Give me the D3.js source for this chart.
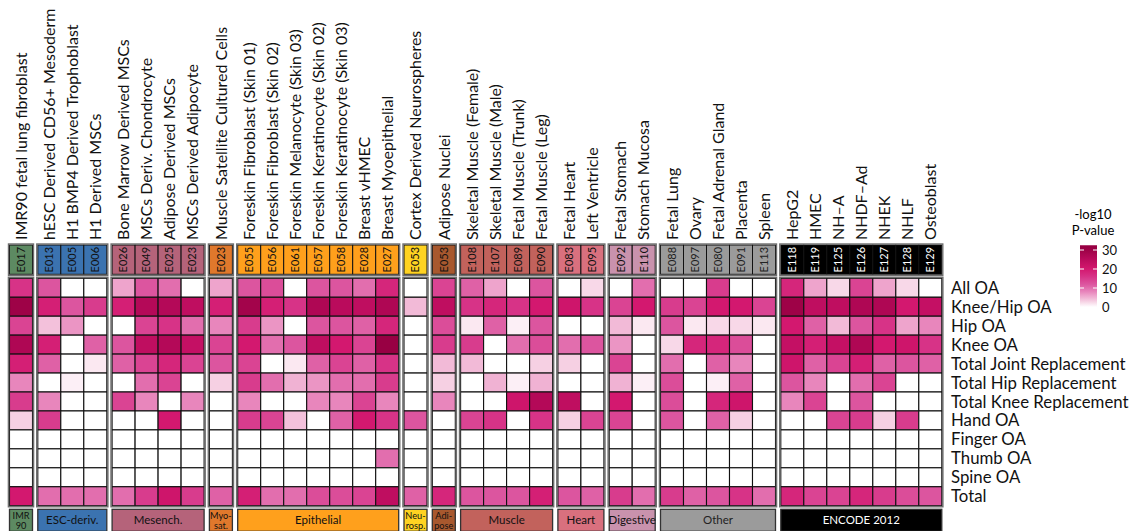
<!DOCTYPE html>
<html><head><meta charset="utf-8">
<script src="https://cdn.jsdelivr.net/npm/d3@7"></script>
<style>
html,body{margin:0;padding:0;background:#fff;}
svg{display:block;font-family:"Lato","Liberation Sans",sans-serif;}
</style></head>
<body><svg id="c" width="1132" height="531"></svg>
<script>
// ---------- DATA ----------
const tissues = ["IMR90 fetal lung fibroblast","hESC Derived CD56+ Mesoderm","H1 BMP4 Derived Trophoblast","H1 Derived MSCs",
 "Bone Marrow  Derived MSCs","MSCs Deriv. Chondrocyte","Adipose Derived MSCs","MSCs Derived Adipocyte",
 "Muscle Satellite Cultured Cells",
 "Foreskin Fibroblast (Skin 01)","Foreskin Fibroblast (Skin 02)","Foreskin Melanocyte (Skin 03)","Foreskin Keratinocyte (Skin 02)","Foreskin Keratinocyte (Skin 03)","Breast vHMEC","Breast Myoepithelial",
 "Cortex Derived Neurospheres","Adipose Nuclei",
 "Skeletal Muscle (Female)","Skeletal Muscle (Male)","Fetal Muscle (Trunk)","Fetal Muscle (Leg)",
 "Fetal Heart","Left Ventricle","Fetal Stomach","Stomach Mucosa",
 "Fetal Lung","Ovary","Fetal Adrenal Gland","Placenta","Spleen",
 "HepG2","HMEC","NH\u2013A","NHDF\u2013Ad","NHEK","NHLF","Osteoblast"];
const codes = ["E017","E013","E005","E006","E026","E049","E025","E023","E023",
 "E055","E056","E061","E057","E058","E028","E027","E053","E053",
 "E108","E107","E089","E090","E083","E095","E092","E110",
 "E088","E097","E080","E091","E113","E118","E119","E125","E126","E127","E128","E129"];
const groupNames = ["IMR\n90","ESC-deriv.","Mesench.","Myo-\nsat.","Epithelial","Neu-\nrosp.","Adi-\npose","Muscle","Heart","Digestive","Other","ENCODE 2012"];
const groupSizes = [1,3,4,1,7,1,1,4,2,2,5,7];
const traits = ["All OA","Knee/Hip OA","Hip OA","Knee OA","Total Joint Replacement","Total Hip Replacement","Total Knee Replacement","Hand OA","Finger OA","Thumb OA","Spine OA","Total"];
// -log10 P-values, one array per trait (columns in tissue order)
const allOA   = [16, 12,0,0, 6,12,10,0, 6, 12,13,0,12,12,10,18, 0,14, 11,6,0,12, 0,2.5, 0,10, 0,0,15,0,0, 18,6,2.5,14,6,2.5,0];
const kneeHip = [30, 19,12,15, 19,26,26,24, 19, 29,19,16,27,25,24,27, 4.5,24, 16,18,16,20, 21,16, 14,20, 15,14,20,20,14, 30,24,24,27,27,20,23];
const hipOA   = [14, 4,7,0, 0,14,16,10, 8, 15,7,0,12,12,11,18, 0,13, 1.5,11,1,12, 0,0, 4.5,1.5, 12,1.5,2.5,2.5,1.5, 20,11,4.5,12,16,6,8];
const kneeOA  = [27, 19,0,11, 12,24,26,23, 14, 20,10,12,24,20,14,31, 0,15, 15,0,10,13, 10,12, 7,0, 2.5,18,18,13,0, 23,19,23,27,20,21,16];
const tjr     = [19, 11,0,1.5, 11,14,18,14, 12, 14,0,1.5,11,14,11,16, 0,4.5, 4.5,0,0,3, 3,0, 14,0, 10,0,11,8,0, 21,11,14,19,11,12,11];
const thr     = [8, 0,1,0, 0,10,14,0, 3, 15,10,5,7,10,10,15, 0,3, 0,5,1,5, 0,0, 5,1, 13,0,1,11,0, 12,8,0,10,14,0,0];
const tkr     = [15, 8,0,0, 14,8,0,8, 0, 8,0,0,8,8,14,8, 0,8, 0,0,21,26, 24,0, 20,0, 13,0,18,21,0, 8,14,0,12,0,0,0];
const handOA  = [3, 15,0,0, 0,0,20,0, 0, 15,14,4,0,11,20,16, 12,0, 14,16,0,16, 3,14, 14,0, 12,0,11,3,0, 0,0,14,15,3,15,0];
const fingerOA= [0, 0,0,0, 0,0,0,0, 0, 0,0,0,0,0,0,0, 0,0, 0,0,0,0, 0,0, 0,0, 0,0,0,0,0, 0,0,0,0,0,0,0];
const thumbOA = [0, 0,0,0, 0,0,0,0, 0, 0,0,0,0,0,0,10, 0,0, 0,0,0,0, 0,0, 0,0, 0,0,0,0,0, 0,0,0,0,0,0,0];
const spineOA = [0, 0,0,0, 0,0,0,0, 0, 0,0,0,0,0,0,0, 0,0, 0,0,0,0, 0,0, 0,0, 0,0,0,0,0, 0,0,0,0,0,0,0];
const total   = [20, 10,10,10, 10,15,21,15, 11, 19,10,10,13,13,14,24, 11,18, 12,12,12,19, 12,11, 15,10, 15,11,12,16,10, 18,14,14,18,15,13,12];
const valueRows = [allOA,kneeHip,hipOA,kneeOA,tjr,thr,tkr,handOA,fingerOA,thumbOA,spineOA,total];
const legendTicks = [0,10,20,30];

// ---------- STYLE ----------
const groupColors = ["#5d8a62","#3b73b0","#b5637a","#e0782c","#ffa01c","#ffd322","#a8582e","#c2625c","#d9707e","#c992ad","#9b9b9b","#000000"];
const groupText   = ["#111","#111","#111","#111","#111","#111","#111","#111","#111","#111","#222","#fff"];

const svg = d3.select("#c");
const colW = 23, gap = 5.3, x0 = 9.5;
const groupIdx = [];
groupSizes.forEach((n,g)=>{for(let i=0;i<n;i++) groupIdx.push(g);});
const xIdx = d3.scaleLinear().domain([0,38]).range([x0, x0+38*colW]);
const xCol = i => xIdx(i) + groupIdx[i]*gap;
const y = d3.scaleBand().domain(traits).range([278.3, 505.7]).paddingInner(0);

const color = d3.scaleLinear()
  .domain([0, 3, 8, 12, 16, 20, 25, 31])
  .range(["#ffffff","#f6d0e3","#e886bc","#dc559f","#d73387","#d3186f","#ba0b5c","#980043"])
  .clamp(true);

// group extents
const gStart = []; let acc=0;
groupSizes.forEach(n=>{gStart.push(acc); acc+=n;});

// heat cells
const cells = [];
valueRows.forEach((row,r)=>row.forEach((v,c)=>cells.push({r,c,v})));
svg.append("g").selectAll("rect").data(cells).join("rect")
  .attr("x", d=>xCol(d.c)).attr("y", d=>y(traits[d.r]))
  .attr("width", colW).attr("height", y.bandwidth())
  .attr("fill", d=>color(d.v)).attr("stroke","#111").attr("stroke-width",1.1);

// group frames (heatmap)
svg.append("g").selectAll("rect").data(groupSizes).join("rect")
  .attr("x",(n,g)=>xCol(gStart[g])-1).attr("y",y.range()[0]-1)
  .attr("width",n=>n*colW+2).attr("height",y.range()[1]-y.range()[0]+2)
  .attr("fill","none").attr("stroke","#6e6e6e").attr("stroke-width",1.6);

// code boxes
const codeTop = 245, codeH = 29.3;
const cg = svg.append("g");
cg.selectAll("rect").data(codes).join("rect")
  .attr("x",(d,i)=>xCol(i)).attr("y",codeTop).attr("width",colW).attr("height",codeH)
  .attr("fill",(d,i)=>groupColors[groupIdx[i]]).attr("stroke","#111").attr("stroke-width",1);
cg.selectAll("text").data(codes).join("text")
  .attr("transform",(d,i)=>`translate(${xCol(i)+colW/2},${codeTop+codeH/2}) rotate(-90)`)
  .attr("text-anchor","middle").attr("dy","0.35em")
  .attr("font-size",11).attr("fill",(d,i)=>groupText[groupIdx[i]]).text(d=>d);
svg.append("g").selectAll("rect").data(groupSizes).join("rect")
  .attr("x",(n,g)=>xCol(gStart[g])-1).attr("y",codeTop-1)
  .attr("width",n=>n*colW+2).attr("height",codeH+2)
  .attr("fill","none").attr("stroke","#6e6e6e").attr("stroke-width",1.4);

// column labels
svg.append("g").selectAll("text").data(tissues).join("text")
  .attr("transform",(d,i)=>`translate(${xCol(i)+colW/2},240) rotate(-90)`)
  .attr("dy","0.36em").attr("font-size",16).attr("fill","#111").text(d=>d);

// row labels
svg.append("g").selectAll("text").data(traits).join("text")
  .attr("x",951).attr("y",d=>y(d)+y.bandwidth()/2).attr("dy","0.36em")
  .attr("font-size",16.8).attr("fill","#111").text(d=>d);

// bottom group boxes
const bTop = 509.3, bH = 22;
const bg = svg.append("g");
bg.selectAll("rect").data(groupSizes).join("rect")
  .attr("x",(n,g)=>xCol(gStart[g])).attr("y",bTop)
  .attr("width",n=>n*colW).attr("height",bH)
  .attr("fill",(n,g)=>groupColors[g]).attr("stroke","#333").attr("stroke-width",1.3);
groupNames.forEach((name,g)=>{
  const cx = xCol(gStart[g]) + groupSizes[g]*colW/2;
  const lines = name.split("\n");
  if(lines.length>1){
    lines.forEach((l,k)=>bg.append("text").attr("text-anchor","middle").attr("fill",groupText[g])
      .attr("font-size",9.2).attr("x",cx).attr("y",bTop+9.3+k*10.3).text(l));
  } else {
    bg.append("text").attr("text-anchor","middle").attr("fill",groupText[g])
      .attr("font-size",11.5).attr("x",cx).attr("y",bTop+14.5).text(name);
  }
});

// legend
const ly = d3.scaleLinear().domain([0,30]).range([307,250]);
const defs = svg.append("defs");
const grad = defs.append("linearGradient").attr("id","lg").attr("x1",0).attr("x2",0).attr("y1",1).attr("y2",0);
d3.range(0,33,1).forEach(v=>grad.append("stop").attr("offset",v/32.5).attr("stop-color",color(v)));
const lx = 1080, lw = 17;
svg.append("rect").attr("x",lx).attr("y",ly(32.5)).attr("width",lw).attr("height",ly(0)-ly(32.5)).attr("fill","url(#lg)");
const lg = svg.append("g");
legendTicks.filter(t=>t>0).forEach(t=>{
  lg.append("line").attr("x1",lx).attr("x2",lx+4).attr("y1",ly(t)).attr("y2",ly(t)).attr("stroke","#fff").attr("stroke-width",1);
  lg.append("line").attr("x1",lx+lw-4).attr("x2",lx+lw).attr("y1",ly(t)).attr("y2",ly(t)).attr("stroke","#fff").attr("stroke-width",1);
});
lg.selectAll("text").data(legendTicks).join("text")
  .attr("x",1102).attr("y",d=>ly(d)).attr("dy","0.36em").attr("font-size",13).attr("fill","#111").text(d=>d);
svg.append("text").attr("x",1093).attr("y",219).attr("text-anchor","middle").attr("font-size",13).text("-log10");
svg.append("text").attr("x",1093).attr("y",235).attr("text-anchor","middle").attr("font-size",13).text("P-value");
</script></body></html>
